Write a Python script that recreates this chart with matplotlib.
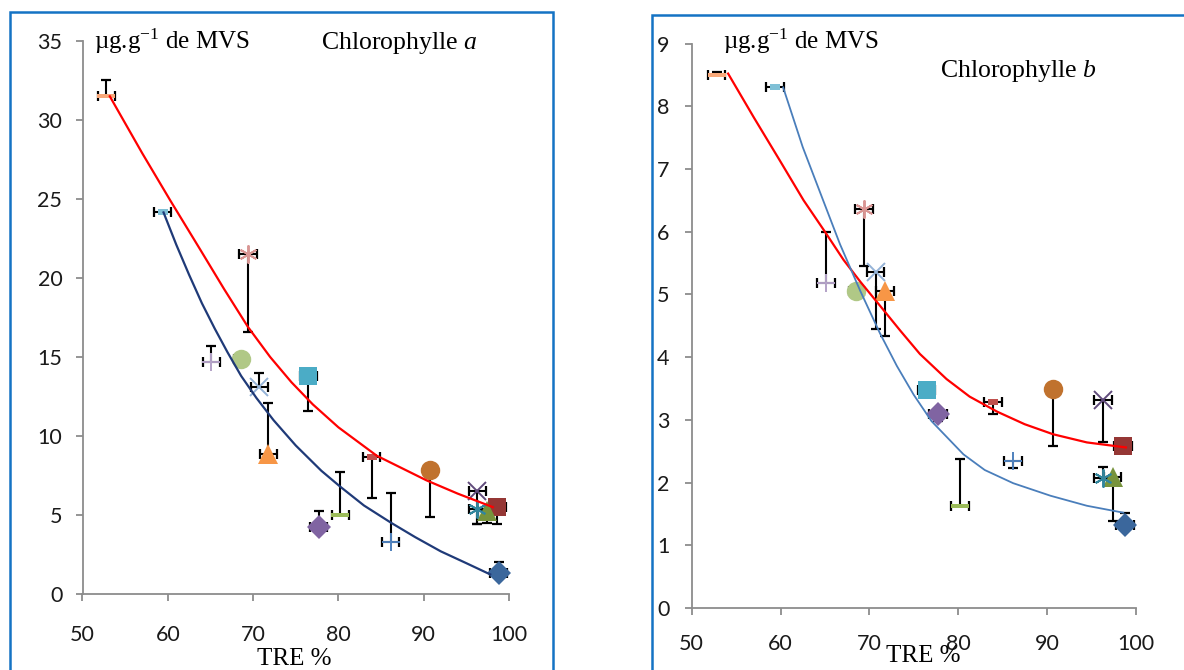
import matplotlib
matplotlib.use("Agg")
import matplotlib.pyplot as plt
from matplotlib.patches import Rectangle

# TRE % (shared by both panels), one point per series
tre = [98.8, 98.6, 97.4, 96.3, 96.3, 90.7, 86.15, 83.9, 80.2, 77.7, 76.45, 71.8, 70.7, 69.4, 68.55, 65.1, 59.4, 52.8]
tre_err = [1.0, 1.0, 1.0, 1.0, 1.0, 0.0, 1.0, 1.0, 1.0, 1.0, 1.0, 1.0, 1.0, 1.0, 0.8, 1.0, 1.0, 1.0]

# Chlorophylle a
chl_a = [1.3, 5.5, 5.27, 6.54, 5.4, 7.85, 3.3, 8.65, 5.0, 4.25, 13.8, 8.86, 13.1, 21.5, 14.9, 14.7, 24.15, 31.5]
chl_a_lo = [0, 1.07, 0.8, 2.1, 0.95, 3.0, 0, 2.55, 0, 0, 2.2, 0, 0, 4.9, 0, 0, 0, 0]
chl_a_hi = [0.7, 0, 0, 0, 0, 0, 3.07, 0, 2.7, 1.0, 0, 3.2, 0.86, 0, 0, 1.0, 0, 1.06]

# Chlorophylle b
chl_b = [1.33, 2.59, 2.09, 3.31, 2.07, 3.49, 2.34, 3.29, 1.62, 3.10, 3.47, 5.06, 5.35, 6.36, 5.06, 5.18, 8.30, 8.49]
chl_b_lo = [0, 0, 0.71, 0.66, 0, 0.9, 0.1, 0.19, 0, 0.12, 0, 0.72, 0.9, 0.9, 0, 0, 0, 0]
chl_b_hi = [0.18, 0, 0, 0, 0.18, 0, 0, 0, 0.76, 0, 0, 0, 0, 0, 0, 0.82, 0, 0.05]

# trend curves
red_a_x = [53.2, 57.0, 60.3, 63.8, 66.6, 69.4, 72.0, 74.5, 77.0, 80.0, 84.5, 90.3, 94.0, 98.1]
red_a_y = [31.5, 27.9, 24.9, 21.8, 19.3, 16.9, 15.0, 13.4, 12.0, 10.55, 8.75, 7.2, 6.35, 5.5]
navy_a_x = [59.5, 61.0, 62.5, 64.0, 65.5, 67.0, 68.6, 70.4, 72.4, 75.0, 78.0, 80.2, 83.0, 86.2, 89.0, 92.0, 95.0, 97.8]
navy_a_y = [24.15, 22.1, 20.2, 18.4, 16.8, 15.3, 13.8, 12.4, 11.0, 9.4, 7.8, 6.8, 5.6, 4.5, 3.6, 2.7, 1.95, 1.24]
red_b_x = [54.1, 57.0, 59.9, 62.6, 65.0, 67.1, 69.0, 71.2, 73.5, 75.7, 78.7, 81.3, 84.4, 87.5, 90.7, 94.5, 98.9]
red_b_y = [8.52, 7.82, 7.14, 6.5, 6.0, 5.55, 5.2, 4.82, 4.42, 4.05, 3.65, 3.37, 3.13, 2.93, 2.77, 2.64, 2.56]
blue_b_x = [60.3, 62.5, 64.8, 66.7, 69.0, 71.2, 73.1, 75.0, 77.0, 80.6, 83.0, 86.2, 90.4, 94.5, 98.6]
blue_b_y = [8.3, 7.35, 6.5, 5.8, 5.05, 4.38, 3.86, 3.40, 2.98, 2.45, 2.2, 1.99, 1.79, 1.63, 1.52]

long_dash = [(-1, -0.26), (1, -0.26), (1, 0.26), (-1, 0.26)]
short_dash = [(-1, -0.5), (1, -0.5), (1, 0.5), (-1, 0.5)]
markers = ["D", "s", "^", "x", (6, 2, 0), "o", "+", short_dash, long_dash,
           "D", "s", "^", "x", (6, 2, 0), "o", "+", short_dash, long_dash]
sizes = [12, 13, 14, 12.5, 13, 14, 13.5, 7.5, 13.5, 12, 13, 14, 12.5, 13, 14, 13.5, 7.5, 13.5]
colors = ["#3b679c", "#953735", "#77933c", "#604a7b", "#31859c", "#c0722e", "#4f81bd", "#c0504d", "#9bbb59",
          "#8064a2", "#4bacc6", "#f79646", "#95b3d7", "#d99694", "#b0c886", "#b3a2c7", "#7fc0d6", "#f9a97a"]

W, H = 1184, 670
plt.rcParams["mathtext.fontset"] = "custom"
plt.rcParams["mathtext.rm"] = "Liberation Serif"
plt.rcParams["mathtext.it"] = "Liberation Serif:italic"

fig = plt.figure(figsize=(W / 100, H / 100), dpi=100)


def fx(px):
    return px / W


def fy(py):
    return 1 - py / H


def draw_err(ax, x, y, lo, hi, dx):
    kw = dict(color="black", lw=1.5, solid_capstyle="butt", zorder=2)
    if lo > 0:
        ax.plot([x, x], [y - lo, y], **kw)
        ax.plot([x], [y - lo], marker="_", ms=7, mew=1.6, color="black", zorder=2)
    if hi > 0:
        ax.plot([x, x], [y, y + hi], **kw)
        ax.plot([x], [y + hi], marker="_", ms=7, mew=1.6, color="black", zorder=2)
    if dx > 0:
        ax.plot([x - dx, x + dx], [y, y], **kw)
        ax.plot([x - dx, x + dx], [y, y], ls="none", marker="|", ms=7, mew=1.6, color="black", zorder=2)


def style_axes(ax, ymax, ystep, xpad, ypad):
    ax.set_xlim(50, 100)
    ax.set_ylim(0, ymax)
    ax.set_xticks(range(50, 101, 10))
    ax.set_yticks([v * ystep for v in range(int(ymax / ystep) + 1)])
    for s in ["top", "right"]:
        ax.spines[s].set_visible(False)
    for s in ["left", "bottom"]:
        ax.spines[s].set_color("#8c8c8c")
        ax.spines[s].set_linewidth(1.3)
    ax.tick_params(axis="both", direction="out", length=5, width=1.3, color="#8c8c8c",
                   labelsize=15.5, labelcolor="#1a1a1a")
    ax.tick_params(axis="x", pad=xpad)
    ax.tick_params(axis="y", pad=ypad)
    for lab in ax.get_xticklabels() + ax.get_yticklabels():
        lab.set_fontfamily("Lato")
    ax.patch.set_alpha(0)


def draw_points(ax, ys, lo, hi):
    for i in range(len(tre)):
        draw_err(ax, tre[i], ys[i], lo[i], hi[i], tre_err[i])
        m = markers[i]
        line_like = m in ("x", "+") or isinstance(m, tuple)
        ax.plot([tre[i]], [ys[i]], ls="none", marker=m, ms=sizes[i], color=colors[i],
                mew=1.4 if line_like else 0, zorder=3, clip_on=False)


# left panel: chlorophylle a
ax1 = fig.add_axes([fx(82.5), fy(594), fx(509) - fx(82.5), fy(41) - fy(594)])
style_axes(ax1, 35, 5, 17, 9.5)
draw_points(ax1, chl_a, chl_a_lo, chl_a_hi)
ax1.plot(red_a_x, red_a_y, color="#ff0000", lw=1.6, zorder=4)
ax1.plot(navy_a_x, navy_a_y, color="#1f3a78", lw=1.6, zorder=4)

# right panel: chlorophylle b
ax2 = fig.add_axes([fx(691.7), fy(608), fx(1135.7) - fx(691.7), fy(43.5) - fy(608)])
style_axes(ax2, 9, 1, 14, 11)
draw_points(ax2, chl_b, chl_b_lo, chl_b_hi)
ax2.plot(red_b_x, red_b_y, color="#ff0000", lw=1.6, zorder=4)
ax2.plot(blue_b_x, blue_b_y, color="#4a7ebb", lw=1.3, zorder=4)

# blue frames
fig.patches.append(Rectangle((fx(10), fy(690)), fx(553) - fx(10), fy(12.5) - fy(690),
                             transform=fig.transFigure, fill=False, ec="#1473c4", lw=1.8))
fig.patches.append(Rectangle((fx(652), fy(690)), fx(1200) - fx(652), fy(15) - fy(690),
                             transform=fig.transFigure, fill=False, ec="#1473c4", lw=1.8))

serif = "Liberation Serif"
fig.text(fx(94), fy(49), "µg.g$^{-1}$ de MVS", family=serif, fontsize=18, va="baseline")
fig.text(fx(321), fy(49), "Chlorophylle $\\mathit{a}$", family=serif, fontsize=18.5, va="baseline")
fig.text(fx(294), fy(665), "TRE %", family=serif, fontsize=18, ha="center", va="baseline")
fig.text(fx(723), fy(49), "µg.g$^{-1}$ de MVS", family=serif, fontsize=18, va="baseline")
fig.text(fx(940), fy(77), "Chlorophylle $\\mathit{b}$", family=serif, fontsize=18.5, va="baseline")
fig.text(fx(923), fy(662), "TRE %", family=serif, fontsize=18, ha="center", va="baseline")

fig.savefig("out.png", dpi=100)
